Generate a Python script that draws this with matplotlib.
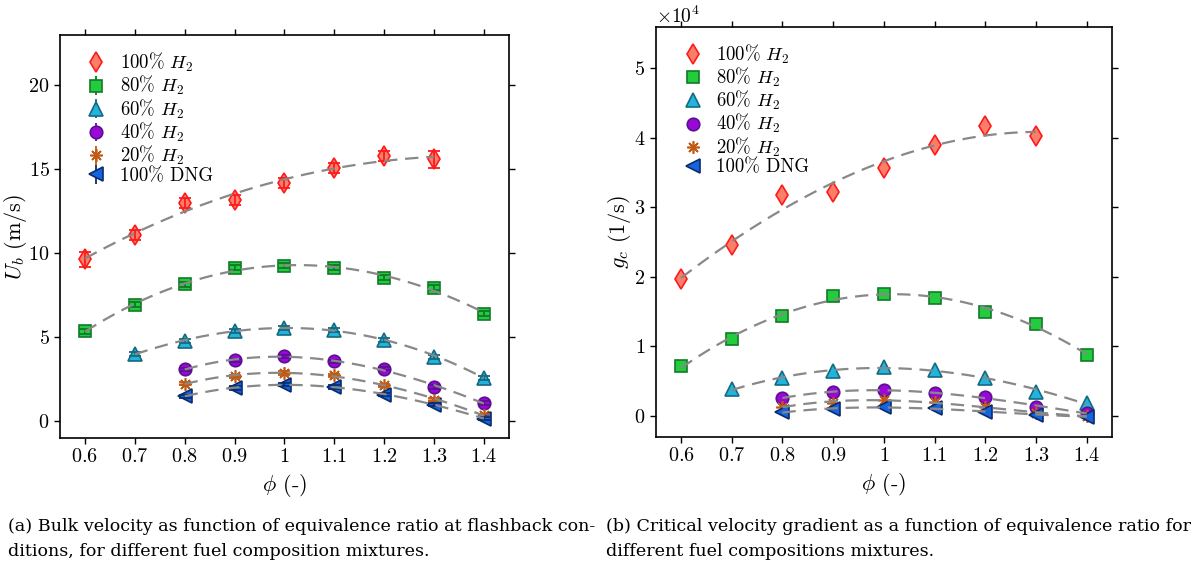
import matplotlib
matplotlib.use("Agg")
import matplotlib.pyplot as plt
import numpy as np
from matplotlib.ticker import FuncFormatter

plt.rcParams["font.family"] = "serif"
plt.rcParams["font.serif"] = ["cmr10", "DejaVu Serif"]
plt.rcParams["mathtext.fontset"] = "cm"
plt.rcParams["axes.formatter.use_mathtext"] = True
plt.rcParams["axes.unicode_minus"] = False

# equivalence ratio
phi = [0.6, 0.7, 0.8, 0.9, 1.0, 1.1, 1.2, 1.3, 1.4]

labels = ["100% $H_2$", "80% $H_2$", "60% $H_2$", "40% $H_2$", "20% $H_2$", "100% DNG"]

# bulk velocity at flashback (m/s), first phi index of each series
start_idx = [0, 0, 1, 2, 2, 2]
ub_h100 = [9.65, 11.1, 13.0, 13.2, 14.2, 15.1, 15.8, 15.6]
ub_h80 = [5.36, 6.94, 8.15, 9.13, 9.25, 9.13, 8.55, 7.96, 6.41]
ub_h60 = [4.0, 4.8, 5.35, 5.55, 5.45, 4.85, 3.85, 2.6]
ub_h40 = [3.1, 3.63, 3.87, 3.57, 3.13, 2.04, 1.09]
ub_h20 = [2.24, 2.68, 2.88, 2.74, 2.14, 1.29, 0.36]
ub_dng = [1.49, 1.98, 2.18, 2.04, 1.59, 0.99, 0.16]

ub_err_h100 = [0.45, 0.3, 0.3, 0.3, 0.3, 0.3, 0.3, 0.5]
ub_err_h80 = [0.15, 0.15, 0.15, 0.15, 0.15, 0.15, 0.15, 0.15, 0.15]
ub_err_h60 = [0.12, 0.12, 0.12, 0.12, 0.12, 0.12, 0.12, 0.12]
ub_err_h40 = [0.1, 0.1, 0.1, 0.1, 0.1, 0.1, 0.1]
ub_err_h20 = [0.1, 0.1, 0.1, 0.1, 0.1, 0.1, 0.1]
ub_err_dng = [0.1, 0.1, 0.1, 0.1, 0.1, 0.1, 0.1]

# critical velocity gradient (1/s)
gc_h100 = [19700, 24600, 31800, 32200, 35700, 39000, 41700, 40200]
gc_h80 = [7100, 11000, 14300, 17300, 17600, 17000, 15000, 13200, 8800]
gc_h60 = [3800, 5400, 6500, 7000, 6600, 5500, 3500, 1800]
gc_h40 = [2600, 3400, 3700, 3300, 2700, 1300, 400]
gc_h20 = [1300, 1900, 2300, 2000, 1200, 400, 0]
gc_dng = [500, 1000, 1200, 1100, 600, 150, -100]

ub_data = [ub_h100, ub_h80, ub_h60, ub_h40, ub_h20, ub_dng]
ub_err = [ub_err_h100, ub_err_h80, ub_err_h60, ub_err_h40, ub_err_h20, ub_err_dng]
gc_data = [gc_h100, gc_h80, gc_h60, gc_h40, gc_h20, gc_dng]

markers = ["d", "s", "^", "o", (8, 2, 0), "<"]
sizes = [10.5, 8.5, 9.5, 9, 9, 10]
faces = ["#fa7f6a", "#22cc3c", "#22b4dc", "#9a08d8", "#d06010", "#1464e0"]
edges = ["#ff1a1a", "#107a28", "#156a80", "#5a1090", "#c05a14", "#0a2c6e"]


def fit_curve(x, y):
    coef = np.polyfit(x, y, 3)
    xx = np.linspace(x[0], x[-1], 100)
    return xx, np.polyval(coef, xx)


fig = plt.figure(figsize=(12, 5.62), dpi=100)
ax1 = fig.add_axes([0.05, 0.2206, 0.374, 0.717])
ax2 = fig.add_axes([0.5464, 0.223, 0.3803, 0.7295])

legend_kw = dict(loc="upper left", frameon=False, fontsize=13.5, handlelength=1.0,
                 handletextpad=0.75, labelspacing=0.0, borderaxespad=0.4,
                 borderpad=0.45)

# (a) bulk velocity with error bars
for i in range(len(labels)):
    x = phi[start_idx[i]:start_idx[i] + len(ub_data[i])]
    ax1.plot(x, ub_data[i], linestyle="none", marker=markers[i], ms=sizes[i],
             mfc=faces[i], mec=edges[i], mew=1.2, zorder=2)
    ax1.errorbar(x, ub_data[i], yerr=ub_err[i], fmt="none", ecolor=edges[i],
                 elinewidth=1.3, capsize=4, capthick=1.3, zorder=3)
    xx, yy = fit_curve(x, ub_data[i])
    ax1.plot(xx, yy, color="#888888", lw=1.6, dashes=(6, 3.5), zorder=4)
    # legend entry with error bar
    ax1.errorbar([], [], yerr=[], marker=markers[i], linestyle="none",
                 ms=sizes[i], mfc=faces[i], mec=edges[i], mew=1.2,
                 ecolor=edges[i], elinewidth=1.3, capsize=4, capthick=1.3,
                 label=labels[i])

ax1.legend(bbox_to_anchor=(0.024, 1.0), **legend_kw)

ax1.set_xlim(0.55, 1.45)
ax1.set_ylim(-1, 23)
ax1.set_yticks([0, 5, 10, 15, 20])
ax1.set_ylabel("$U_b$ (m/s)", fontsize=16)
ax1.yaxis.set_label_coords(-0.07, 0.5)

# (b) critical velocity gradient
for i in range(len(labels)):
    x = phi[start_idx[i]:start_idx[i] + len(gc_data[i])]
    ax2.plot(x, gc_data[i], linestyle="none", marker=markers[i], ms=sizes[i],
             mfc=faces[i], mec=edges[i], mew=1.2, zorder=2, label=labels[i])
    xx, yy = fit_curve(x, gc_data[i])
    ax2.plot(xx, yy, color="#888888", lw=1.6, dashes=(6, 3.5), zorder=4)

ax2.legend(bbox_to_anchor=(0.026, 1.0), **legend_kw)

ax2.set_xlim(0.55, 1.45)
ax2.set_ylim(-3000, 56000)
ax2.set_yticks([0, 10000, 20000, 30000, 40000, 50000])
ax2.ticklabel_format(style="sci", axis="y", scilimits=(0, 0))
ax2.yaxis.get_offset_text().set_fontsize(14)
ax2.set_ylabel("$g_c$ (1/s)", fontsize=16)
ax2.yaxis.set_label_coords(-0.05, 0.5)

for ax in (ax1, ax2):
    ax.set_xticks(phi)
    ax.xaxis.set_major_formatter(FuncFormatter(lambda v, p: f"$\\mathdefault{{{v:g}}}$"))
    ax.set_xlabel(r"$\phi$ (-)", fontsize=16)
    ax.tick_params(direction="out", top=True, right=True, labelsize=14.5,
                   length=4, width=1)
    for s in ax.spines.values():
        s.set_linewidth(1.2)

cap_kw = dict(fontsize=12.6, family="DejaVu Serif", va="baseline")
fig.text(0.007, 1 - 531 / 562,
         "(a) Bulk velocity as function of equivalence ratio at flashback con-", **cap_kw)
fig.text(0.007, 1 - 556 / 562,
         "ditions, for different fuel composition mixtures.", **cap_kw)
fig.text(0.505, 1 - 531 / 562,
         "(b) Critical velocity gradient as a function of equivalence ratio for", **cap_kw)
fig.text(0.505, 1 - 556 / 562,
         "different fuel compositions mixtures.", **cap_kw)

fig.savefig("out.png", dpi=100)
